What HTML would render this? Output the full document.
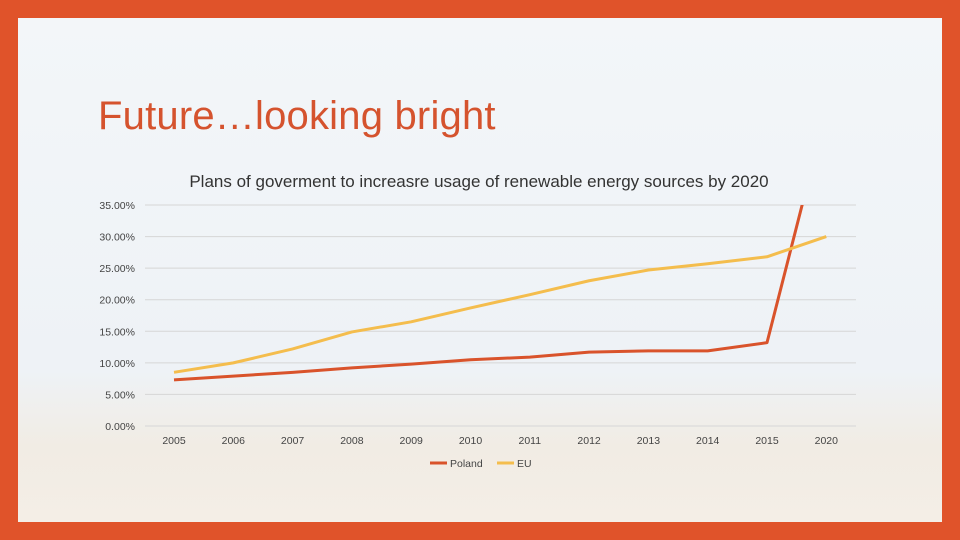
<!DOCTYPE html>
<html><head><meta charset="utf-8"><style>
html,body{margin:0;padding:0;width:960px;height:540px;overflow:hidden;background:#e0532a;font-family:"Liberation Sans",sans-serif}
#slide{position:absolute;left:18px;top:18px;width:924px;height:504px;background:linear-gradient(#f3f6f9 0%,#eef2f6 70%,#f1ece4 85%,#f4eee6 100%)}
#title{position:absolute;left:80px;top:76px;font-size:40px;color:#d5532e;letter-spacing:0.2px}
svg{position:absolute;left:0;top:0}
</style></head><body>
<div id="slide">
<div id="title">Future…looking bright</div>
</div>
<svg id="chart" width="960" height="540"></svg>
<script>
const categories=["2005","2006","2007","2008","2009","2010","2011","2012","2013","2014","2015","2020"];
const poland=[7.3,7.9,8.5,9.2,9.8,10.5,10.9,11.7,11.9,11.9,13.2,50];
const eu=[8.5,10,12.2,14.9,16.5,18.7,20.8,23,24.7,25.7,26.8,30];
const yTicks=[0,5,10,15,20,25,30,35];
const NS="http://www.w3.org/2000/svg";
const svg=document.getElementById('chart');
const x0=174,dx=59.3,yBase=426,yTop=205,yMax=35;
function xs(i){return x0+i*dx;}
function ys(v){return yBase-(v/yMax)*(yBase-yTop);}
function mk(t,a){const e=document.createElementNS(NS,t);for(const k in a)e.setAttribute(k,a[k]);svg.appendChild(e);return e;}
const defs=mk('defs',{});
const cp=document.createElementNS(NS,'clipPath');cp.setAttribute('id','plot');
const r=document.createElementNS(NS,'rect');r.setAttribute('x',140);r.setAttribute('y',yTop);r.setAttribute('width',720);r.setAttribute('height',yBase-yTop+5);
cp.appendChild(r);defs.appendChild(cp);
const t=mk('text',{x:479,y:187,'text-anchor':'middle','font-size':17,fill:'#333'});


t.textContent='Plans of goverment to increasre usage of renewable energy sources by 2020';
yTicks.forEach(v=>{
 const g=mk('line',{x1:145,x2:856,y1:ys(v),y2:ys(v),stroke:'#d6d6d6','stroke-width':1});
 
 
 const l=mk('text',{x:135,y:ys(v)+4,'text-anchor':'end','font-size':10.5,fill:'#444'});
 
 
 l.textContent=v.toFixed(2)+'%';
});
categories.forEach((c,i)=>{
 const l=mk('text',{x:xs(i),y:444,'text-anchor':'middle','font-size':10.5,fill:'#444'});
 
 
 l.textContent=c;
});
function series(vals,color,name){
 const p=mk('polyline',{points:vals.map((v,i)=>xs(i)+','+ys(v)).join(' '),fill:'none',stroke:color,'stroke-width':3,'stroke-linejoin':'round','clip-path':'url(#plot)'});
 
 
}
series(poland,'#d9532b','poland-line');
series(eu,'#f4bd4d','eu-line');
[[430,'#d9532b','Poland','legend-poland'],[497,'#f4bd4d','EU','legend-eu']].forEach(a=>{
 const l=mk('line',{x1:a[0],x2:a[0]+17,y1:463,y2:463,stroke:a[1],'stroke-width':3});
 
 
 const tx=mk('text',{x:a[0]+20,y:467,'font-size':10.5,fill:'#444'});
 
 
 tx.textContent=a[2];
});
</script>
</body></html>
